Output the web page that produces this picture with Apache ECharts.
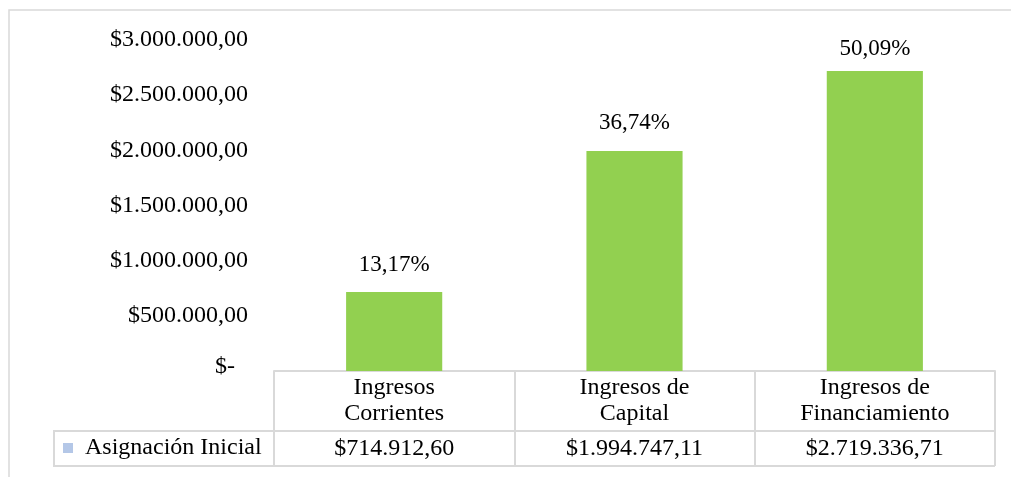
<!DOCTYPE html>
<html>
<head>
<meta charset="utf-8">
<script src="https://cdn.jsdelivr.net/npm/echarts@6/dist/echarts.min.js"></script>
<style>html,body{margin:0;padding:0;background:#fff}#c{width:1011px;height:477px}</style>
</head>
<body>
<div id="c"></div>
<script>
const categories = ['Ingresos\nCorrientes', 'Ingresos de\nCapital', 'Ingresos de\nFinanciamiento'];
const seriesName = 'Asignación Inicial';
const values = [714912.60, 1994747.11, 2719336.71];
const pctLabels = ['13,17%', '36,74%', '50,09%'];
const yMin = 0, yMax = 3000000, yInterval = 500000;

const FONT = '"Liberation Serif","Times New Roman",serif';
const BORDER = '#d9d9d9';

function money(v) {
  const parts = v.toFixed(2).split('.');
  return '$' + parts[0].replace(/\B(?=(\d{3})+(?!\d))/g, '.') + ',' + parts[1];
}

const chart = echarts.init(document.getElementById('c'), null, {renderer: 'canvas'});
const option = {
  backgroundColor: '#fff',
  animation: false,
  textStyle: {fontFamily: FONT},
  grid: {left: 274, right: 16, top: 40, bottom: 106, containLabel: false},
  legend: {
    left: 63, top: 436, padding: 0,
    icon: 'rect', itemWidth: 10, itemHeight: 10,
    textStyle: {fontFamily: FONT, fontSize: 24, color: '#000', padding: [0, 0, 0, 7]},
    data: [{name: seriesName, itemStyle: {color: '#b4c7e7'}}]
  },
  xAxis: [{
    type: 'category', data: categories, position: 'bottom',
    axisLine: {show: true, lineStyle: {color: BORDER, width: 2}},
    axisTick: {show: true, length: 95, lineStyle: {color: BORDER, width: 2}},
    axisLabel: {margin: 4, fontFamily: FONT, fontSize: 24, lineHeight: 26, color: '#000'},
    splitLine: {show: false}
  }, {
    type: 'category', data: categories, position: 'bottom', offset: 60,
    axisLine: {show: false}, axisTick: {show: false},
    axisLabel: {margin: 6, fontFamily: FONT, fontSize: 24, color: '#000',
      formatter: function (v, i) { return money(values[i]); }},
    splitLine: {show: false}
  }],
  yAxis: {
    type: 'value', min: yMin, max: yMax, interval: yInterval,
    axisLine: {show: false}, axisTick: {show: false}, splitLine: {show: false},
    axisLabel: {margin: 26, fontFamily: FONT, fontSize: 24, color: '#000',
      formatter: function (v) { return v === 0 ? '{z|$-}' : money(v); },
      rich: {z: {fontFamily: FONT, fontSize: 24, color: '#000', padding: [0, 13, 8, 0]}}}
  },
  series: [{
    name: seriesName, type: 'bar', xAxisIndex: 0,
    data: values.map(function (v, i) {
      return i === values.length - 1 ? {value: v, label: {distance: 11}} : v;
    }),
    barWidth: '40%',
    itemStyle: {color: '#92d050'},
    label: {show: true, position: 'top', distance: 16, fontFamily: FONT, fontSize: 23, color: '#000',
      formatter: function (p) { return pctLabels[p.dataIndex]; }}
  }],
  graphic: [
    {type: 'rect', silent: true, shape: {x: 9, y: 10, width: 1200, height: 700},
     style: {fill: 'none', stroke: BORDER, lineWidth: 1.5}},
    {type: 'line', silent: true, shape: {x1: 54, y1: 431, x2: 995, y2: 431}, style: {stroke: BORDER, lineWidth: 2}},
    {type: 'line', silent: true, shape: {x1: 54, y1: 466, x2: 995, y2: 466}, style: {stroke: BORDER, lineWidth: 2}},
    {type: 'line', silent: true, shape: {x1: 54, y1: 430, x2: 54, y2: 467}, style: {stroke: BORDER, lineWidth: 2}}
  ]
};
chart.setOption(option);
</script>
</body>
</html>
